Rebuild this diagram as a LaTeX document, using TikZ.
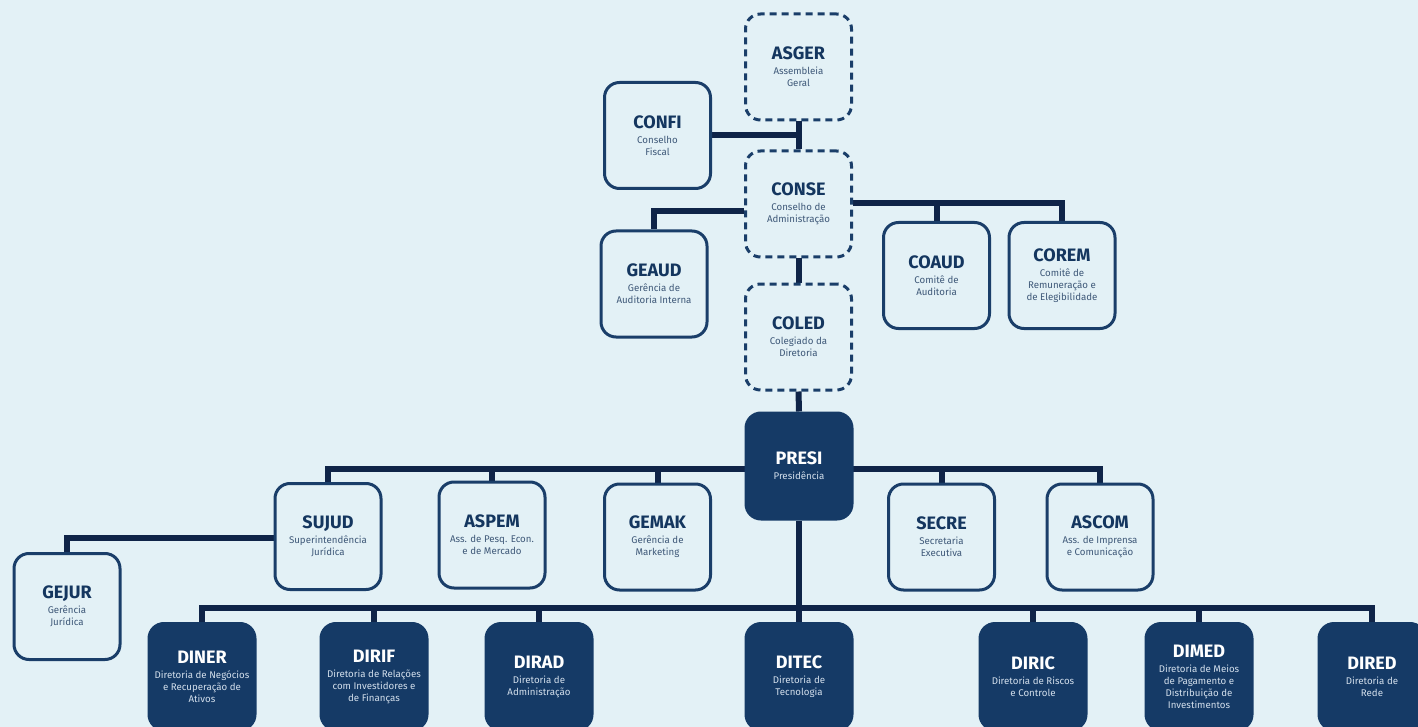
\documentclass[tikz,border=0pt]{standalone}
\usepackage{fontspec}
\setmainfont{Fira Sans}
\usetikzlibrary{backgrounds}
\definecolor{bgc}{HTML}{E3F1F6}
\definecolor{navy}{HTML}{153A66}
\definecolor{borderc}{HTML}{1A3E69}
\definecolor{linec}{HTML}{0F2448}
\definecolor{titlec}{HTML}{14365F}
\definecolor{subc}{HTML}{3E5878}
\definecolor{subw}{HTML}{D3DFEC}
\newcommand\ttl[2]{{\color{#1}\fontsize{18}{20}\selectfont\bfseries #2}}
\tikzset{
  box/.style={rounded corners=15pt, minimum width=106pt, minimum height=106pt,
    inner sep=0pt, align=center, text=subc, font=\fontsize{9.7}{12}\selectfont,
    fill=bgc, draw=borderc, line width=3pt},
  dbox/.style={box, dash pattern=on 7pt off 5pt},
  fbox/.style={box, fill=navy, draw=navy, text=subw},
  conn/.style={draw=linec, line width=6pt},
}
\begin{document}
\begin{tikzpicture}[x=1pt,y=-1pt]
\useasboundingbox (0,0) rectangle (1418,727);
\begin{pgfonlayer}{background}
\fill[bgc] (0,0) rectangle (1418,727);
\end{pgfonlayer}
% upper governance
\node[dbox] (asger) at (798.5,67) {\ttl{titlec}{ASGER}\\[3pt]Assembleia\\Geral};
\node[box] (confi) at (657.5,135.5) {\ttl{titlec}{CONFI}\\[3pt]Conselho\\Fiscal};
\node[dbox] (conse) at (798.5,204) {\ttl{titlec}{CONSE}\\[3pt]Conselho de\\Administração};
\node[box] (geaud) at (654,284) {\ttl{titlec}{GEAUD}\\[3pt]Gerência de\\Auditoria Interna};
\node[box] (coaud) at (936.5,275.5) {\ttl{titlec}{COAUD}\\[3pt]Comitê de\\Auditoria};
\node[box] (corem) at (1062,275.5) {\ttl{titlec}{COREM}\\[3pt]Comitê de\\Remuneração e\\de Elegibilidade};
\node[dbox] (coled) at (798.5,337) {\ttl{titlec}{COLED}\\[3pt]Colegiado da\\Diretoria};
\node[fbox] (presi) at (799,466) {\ttl{white}{PRESI}\\[3pt]Presidência};
% advisors
\node[box] (sujud) at (328,536.5) {\ttl{titlec}{SUJUD}\\[3pt]Superintendência\\Jurídica};
\node[box] (aspem) at (492,535) {\ttl{titlec}{ASPEM}\\[3pt]Ass. de Pesq. Econ.\\e de Mercado};
\node[box] (gemak) at (657.5,537) {\ttl{titlec}{GEMAK}\\[3pt]Gerência de\\Marketing};
\node[box] (secre) at (941.5,537) {\ttl{titlec}{SECRE}\\[3pt]Secretaria\\Executiva};
\node[box] (ascom) at (1100,537) {\ttl{titlec}{ASCOM}\\[3pt]Ass. de Imprensa\\e Comunicação};
\node[box] (gejur) at (67,606.5) {\ttl{titlec}{GEJUR}\\[3pt]Gerência\\Jurídica};
% directorates
\node[fbox] (diner) at (202,676.5) {\ttl{white}{DINER}\\[3pt]Diretoria de Negócios\\e Recuperação de\\Ativos};
\node[fbox] (dirif) at (374,676.5) {\ttl{white}{DIRIF}\\[3pt]Diretoria de Relações\\com Investidores e\\de Finanças};
\node[fbox] (dirad) at (539,676.5) {\ttl{white}{DIRAD}\\[3pt]Diretoria de\\Administração};
\node[fbox] (ditec) at (799,676.5) {\ttl{white}{DITEC}\\[3pt]Diretoria de\\Tecnologia};
\node[fbox] (diric) at (1033,676.5) {\ttl{white}{DIRIC}\\[3pt]Diretoria de Riscos\\e Controle};
\node[fbox] (dimed) at (1199,676.5) {\ttl{white}{DIMED}\\[3pt]Diretoria de Meios\\de Pagamento e\\Distribuição de\\Investimentos};
\node[fbox] (dired) at (1372,676.5) {\ttl{white}{DIRED}\\[3pt]Diretoria de\\Rede};
% connector levels
\coordinate (lconse) at (0,203);
\coordinate (lgeaud) at (0,211);
\coordinate (lpresi) at (0,469);
\coordinate (lsujud) at (0,538);
\coordinate (ldir) at (0,608);
\begin{pgfonlayer}{background}
\draw[conn] (confi.east) -- (confi.east -| asger.south);
\draw[conn] (asger.south) -- (conse.north);
\draw[conn] (conse.west |- lgeaud) -| (geaud.north);
\draw[conn] (conse.east |- lconse) -| (corem.north);
\draw[conn] (coaud.north) -- (coaud.north |- lconse);
\draw[conn] (conse.south) -- (coled.north);
\draw[conn] (coled.south) -- (presi.north);
\draw[conn] (sujud.north) -- (sujud.north |- lpresi) -- (ascom.north |- lpresi) -- (ascom.north);
\draw[conn] (aspem.north) -- (aspem.north |- lpresi);
\draw[conn] (gemak.north) -- (gemak.north |- lpresi);
\draw[conn] (secre.north) -- (secre.north |- lpresi);
\draw[conn] (sujud.west |- lsujud) -| (gejur.north);
\draw[conn] (presi.south) -- (ditec.north);
\draw[conn] (diner.north) -- (diner.north |- ldir) -- (dired.north |- ldir) -- (dired.north);
\draw[conn] (dirif.north) -- (dirif.north |- ldir);
\draw[conn] (dirad.north) -- (dirad.north |- ldir);
\draw[conn] (diric.north) -- (diric.north |- ldir);
\draw[conn] (dimed.north) -- (dimed.north |- ldir);
\end{pgfonlayer}
\end{tikzpicture}
\end{document}
